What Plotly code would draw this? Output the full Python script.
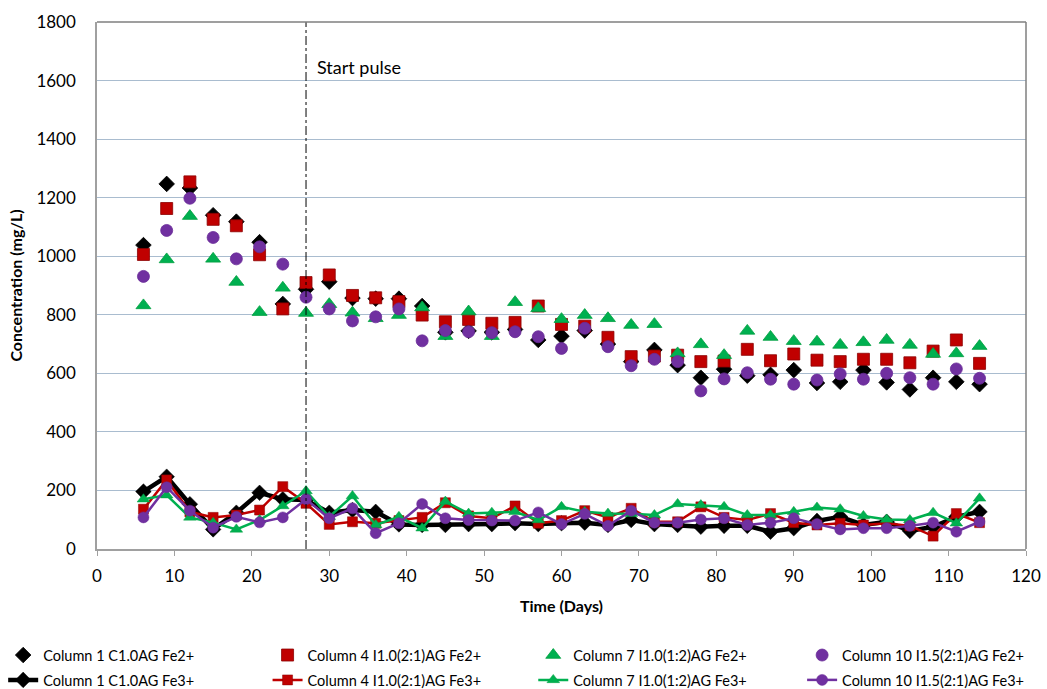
import plotly.graph_objects as go

days = [6, 9, 12, 15, 18, 21, 24, 27, 30, 33, 36, 39, 42, 45, 48, 51, 54, 57, 60,
        63, 66, 69, 72, 75, 78, 81, 84, 87, 90, 93, 96, 99, 102, 105, 108, 111, 114]

c1_fe2 = [1038, 1247, 1233, 1140, 1118, 1048, 837, 887, 913, 857, 855, 855, 830, 740, 745, 740, 750, 714, 727,
          746, 700, 640, 680, 628, 585, 614, 592, 595, 611, 567, 571, 611, 569, 545, 585, 571, 563]
c4_fe2 = [1006, 1163, 1254, 1126, 1104, 1005, 820, 910, 936, 866, 858, 845, 799, 776, 784, 771, 774, 830, 767,
          761, 723, 657, 659, 662, 640, 642, 682, 643, 666, 645, 640, 648, 648, 636, 676, 714, 634]
c7_fe2 = [832, 989, 1137, 991, 912, 809, 892, 806, 836, 807, 788, 799, 825, 727, 811, 727, 843, 822, 785,
          799, 788, 765, 768, 668, 699, 662, 745, 724, 710, 708, 697, 706, 714, 697, 666, 668, 693]
c10_fe2 = [931, 1088, 1198, 1064, 991, 1032, 973, 860, 820, 779, 793, 820, 711, 746, 742, 739, 742, 725, 685,
           754, 691, 626, 648, 640, 540, 581, 602, 580, 563, 577, 598, 580, 600, 585, 563, 615, 583]

c1_fe3 = [196, 247, 153, 67, 124, 192, 170, 167, 124, 133, 127, 84, 82, 82, 85, 85, 88, 85, 88,
          90, 82, 99, 85, 82, 76, 79, 79, 59, 71, 96, 110, 82, 93, 62, 76, 110, 127]
c4_fe3 = [136, 236, 127, 108, 116, 133, 213, 156, 84, 93, 88, 97, 108, 158, 113, 105, 147, 88, 97,
          131, 108, 139, 93, 93, 144, 108, 99, 121, 90, 82, 88, 82, 88, 79, 44, 121, 90]
c7_fe3 = [170, 184, 108, 90, 67, 99, 147, 198, 110, 181, 82, 110, 71, 162, 121, 124, 127, 99, 144,
          127, 121, 120, 116, 154, 150, 144, 116, 116, 127, 142, 136, 113, 101, 99, 124, 88, 173]
c10_fe3 = [108, 211, 131, 73, 110, 91, 108, 170, 105, 139, 54, 88, 154, 105, 99, 97, 97, 125, 85,
           120, 79, 131, 90, 90, 101, 105, 82, 90, 105, 85, 67, 71, 71, 79, 90, 59, 93]

names = ["Column 1 C1.0AG", "Column 4 I1.0(2:1)AG", "Column 7 I1.0(1:2)AG", "Column 10 I1.5(2:1)AG"]
pulse_day = 27

BLACK = "#000000"
RED = "#c00000"
GREEN = "#00b050"
PURPLE = "#7030a0"
FONT = "Lato"

fig = go.Figure()

fe2 = [c1_fe2, c4_fe2, c7_fe2, c10_fe2]
fe3 = [c1_fe3, c4_fe3, c7_fe3, c10_fe3]
colors = [BLACK, RED, GREEN, PURPLE]
edge = ["#000000", "#8b0000", "#00a040", "#6a2c98"]
symbols = ["diamond", "square", "triangle-up", "circle"]
sz2 = [12, 12, 13, 12]
sz3 = [12, 10, 11, 11]
lw3 = [4.5, 2.5, 2.5, 2.5]
legends = ["legend", "legend2", "legend3", "legend4"]

for i in range(4):
    fig.add_trace(go.Scatter(
        x=days, y=fe2[i], mode="markers", name=names[i] + " Fe2+",
        marker=dict(symbol=symbols[i], size=sz2[i], color=colors[i],
                    line=dict(color=edge[i], width=0.8)),
        legend=legends[i], legendgroup="a%d" % i, legendrank=1))

for i in range(4):
    fig.add_trace(go.Scatter(
        x=days, y=fe3[i], mode="lines+markers", name=names[i] + " Fe3+",
        line=dict(color=colors[i], width=lw3[i]),
        marker=dict(symbol=symbols[i], size=sz3[i], color=colors[i],
                    line=dict(color=edge[i], width=0.5)),
        legend=legends[i], legendgroup="b%d" % i, legendrank=2))

leg_x = [-0.101, 0.1836, 0.4696, 0.759]
leg_common = dict(orientation="v", yanchor="top", xanchor="left", y=-0.171,
                  bgcolor="rgba(0,0,0,0)", tracegroupgap=3,
                  font=dict(family=FONT, size=14.5, color="#000000"))
fig.update_layout(
    legend=dict(x=leg_x[0], **leg_common),
    legend2=dict(x=leg_x[1], **leg_common),
    legend3=dict(x=leg_x[2], **leg_common),
    legend4=dict(x=leg_x[3], **leg_common),
)

fig.add_shape(type="line", x0=pulse_day, x1=pulse_day, xref="x", yref="paper", y0=0, y1=1,
              line=dict(color="#000000", width=1, dash="dashdot"))
# top and right border
fig.add_shape(type="line", x0=0, x1=1, y0=1, y1=1, xref="paper", yref="paper",
              line=dict(color="#7f7f7f", width=1.5))
fig.add_shape(type="line", x0=1, x1=1, y0=0, y1=1, xref="paper", yref="paper",
              line=dict(color="#7f7f7f", width=1.5))

fig.add_annotation(x=pulse_day + 1.1, y=1648, xref="x", yref="y", text="Start pulse",
                   showarrow=False, xanchor="left", yanchor="middle",
                   font=dict(family=FONT, size=18, color="#000000"))

fig.update_layout(
    width=1047, height=689,
    margin=dict(l=97, r=21, t=22, b=140, autoexpand=False),
    paper_bgcolor="white", plot_bgcolor="white",
    font=dict(family=FONT, size=16, color="#000000"),
    showlegend=True,
)
fig.update_xaxes(
    range=[0, 120], dtick=10, tick0=0, showgrid=False, zeroline=False, automargin=False,
    showline=True, linecolor="#a0a0a0", linewidth=1.5,
    ticks="outside", ticklen=5, tickcolor="#a0a0a0", ticklabelstandoff=6,
    tickfont=dict(family=FONT, size=17),
    title=dict(text="<b>Time (Days)</b>", font=dict(family=FONT, size=16), standoff=16),
)
fig.update_yaxes(
    range=[0, 1800], dtick=200, tick0=0, showgrid=True, gridcolor="#a9bccf", gridwidth=1,
    zeroline=False, showline=True, linecolor="#a0a0a0", linewidth=1.5, automargin=False,
    ticks="", ticklabelstandoff=16,
    tickfont=dict(family=FONT, size=17),
    title=dict(text="<b>Concentration (mg/L)</b>", font=dict(family=FONT, size=16), standoff=10),
)

fig.write_html("out.html", config={"displayModeBar": False},
               post_script="document.body.style.margin='0px';document.body.style.overflow='hidden';")
